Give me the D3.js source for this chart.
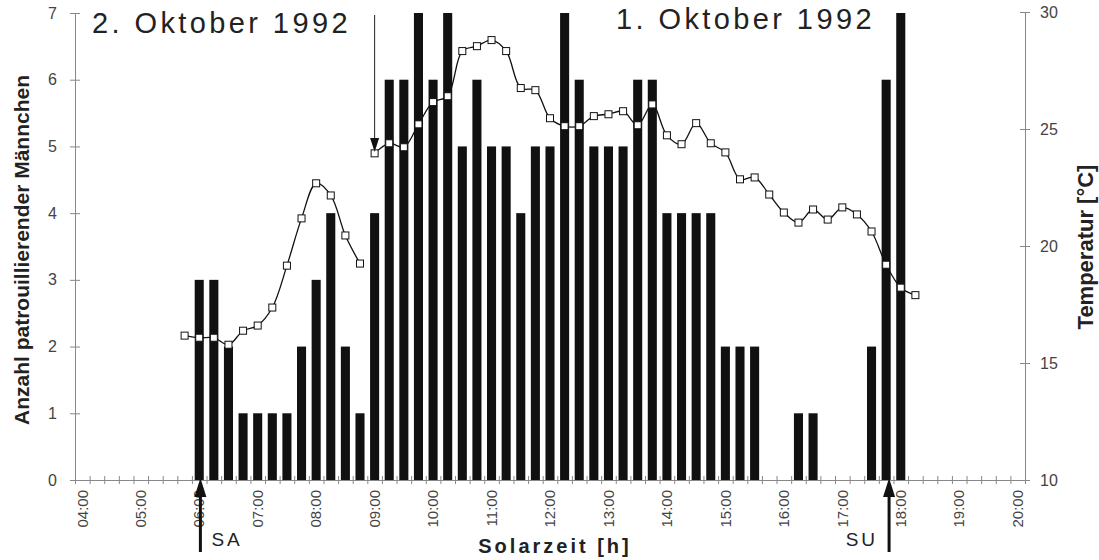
<!DOCTYPE html>
<html>
<head>
<meta charset="utf-8">
<script src="https://cdn.jsdelivr.net/npm/d3@7"></script>
<style>
  body { margin: 0; background: #fff; }
  svg { display: block; font-family: "Liberation Sans", Arial, sans-serif; }
  .axis path, .axis line { stroke: #888; }
  .axis text { fill: #444; }
</style>
</head>
<body>
<svg id="chart" width="1099" height="560"></svg>
<script>
// 15 min categories on the x axis
var categories = ["04:00","04:15","04:30","04:45","05:00","05:15","05:30","05:45",
  "06:00","06:15","06:30","06:45","07:00","07:15","07:30","07:45",
  "08:00","08:15","08:30","08:45","09:00","09:15","09:30","09:45",
  "10:00","10:15","10:30","10:45","11:00","11:15","11:30","11:45",
  "12:00","12:15","12:30","12:45","13:00","13:15","13:30","13:45",
  "14:00","14:15","14:30","14:45","15:00","15:15","15:30","15:45",
  "16:00","16:15","16:30","16:45","17:00","17:15","17:30","17:45",
  "18:00","18:15","18:30","18:45","19:00","19:15","19:30","19:45","20:00"];
var hourLabels = ["04:00","05:00","06:00","07:00","08:00","09:00","10:00","11:00","12:00",
  "13:00","14:00","15:00","16:00","17:00","18:00","19:00","20:00"];

// number of patrolling males per 15 min
var males = [0,0,0,0,0,0,0,0,
  3,3,2,1,1,1,1,2,3,4,2,1,
  4,6,6,7,6,7,5,6,5,5,4,5,5,7,6,5,5,5,6,6,4,4,4,4,
  2,2,2,0,0,1,1,0,0,0,2,6,7,
  0,0,0,0,0,0,0,0];

// temperature, 2. Oktober (05:45 - 08:45) and 1. Oktober (09:00 - 18:15)
var tempOct2Start = "05:45";
var tempOct2 = [16.17,16.08,16.08,15.78,16.38,16.6,17.37,19.16,21.18,22.68,22.16,20.45,19.25];
var tempOct1Start = "09:00";
var tempOct1 = [23.96,24.39,24.22,25.2,26.15,26.4,28.33,28.54,28.8,28.33,26.75,26.66,
  25.46,25.12,25.12,25.55,25.63,25.76,25.16,26.05,24.73,24.35,25.25,24.39,
  24.0,22.85,22.93,22.2,21.43,21.0,21.56,21.13,21.65,21.35,20.62,19.2,18.22,17.9];

var countTicks = [0,1,2,3,4,5,6,7];
var tempTicks = [10,15,20,25,30];
var sunLabels = ["SA","SU"];
var sunHours = [6.02, 17.8];

var svg = d3.select("#chart");
var plotLeft = 75, plotRight = 1025, plotTop = 13, plotBottom = 480;

var x = d3.scaleBand().domain(categories).range([plotLeft, plotRight])
  .paddingInner(0.38).paddingOuter(0.19);
var step = x.step();
// hours -> pixel, category centers
var xHour = d3.scaleLinear().domain([4, 20 + 0.25]).range([plotLeft + step / 2, plotRight + step / 2]);
var xEdge = d3.scaleLinear().domain([0, categories.length]).range([plotLeft, plotRight]);
var yCount = d3.scaleLinear().domain([0, 7]).range([plotBottom, plotTop]);
var yTemp = d3.scaleLinear().domain([10, 30]).range([plotBottom, plotTop - 1]);

// bars
svg.append("g").selectAll("rect")
  .data(males.map(function (v, i) { return { cat: categories[i], v: v }; }).filter(function (d) { return d.v > 0; }))
  .enter().append("rect")
  .attr("x", function (d) { return x(d.cat); })
  .attr("width", x.bandwidth())
  .attr("y", function (d) { return yCount(d.v); })
  .attr("height", function (d) { return yCount(0) - yCount(d.v); })
  .attr("fill", "#111");

// x axis: minor ticks on category edges
var gx = svg.append("g").attr("class", "axis").attr("transform", "translate(0," + plotBottom + ")");
gx.call(d3.axisBottom(xEdge).tickValues(d3.range(categories.length + 1))
  .tickFormat("").tickSizeOuter(0).tickSizeInner(4));
gx.selectAll(".tick line").attr("y1", -4);

var gxl = svg.append("g").attr("class", "axis").attr("transform", "translate(0," + plotBottom + ")");
gxl.call(d3.axisBottom(x).tickValues(hourLabels).tickSize(0));
gxl.select(".domain").remove();
gxl.selectAll("text")
  .attr("y", 0).attr("x", -10).attr("dy", "0.35em")
  .attr("transform", "rotate(-90)")
  .style("text-anchor", "end")
  .style("font-size", "15px");

// left axis
var gyl = svg.append("g").attr("class", "axis").attr("transform", "translate(" + plotLeft + ",0)");
gyl.call(d3.axisLeft(yCount).tickValues(countTicks).tickFormat(d3.format("d"))
  .tickSizeOuter(0).tickSizeInner(5).tickPadding(13));
gyl.selectAll(".tick line").attr("x1", 5);
gyl.selectAll("text").style("font-size", "16px");

// right axis
var gyr = svg.append("g").attr("class", "axis").attr("transform", "translate(" + plotRight + ",0)");
gyr.call(d3.axisRight(yTemp).tickValues(tempTicks).tickFormat(d3.format("d"))
  .tickSizeOuter(0).tickSizeInner(5).tickPadding(10));
gyr.selectAll(".tick line").attr("x1", -5);
gyr.selectAll("text").style("font-size", "16px");

// temperature lines
var line = d3.line()
  .x(function (d) { return d.x; })
  .y(function (d) { return yTemp(d.t); })
  .curve(d3.curveCatmullRom.alpha(0.5));

function series(start, temps) {
  var i0 = categories.indexOf(start);
  return temps.map(function (t, i) { return { x: x(categories[i0 + i]) + x.bandwidth() / 2, t: t }; });
}
[series(tempOct2Start, tempOct2), series(tempOct1Start, tempOct1)].forEach(function (s) {
  svg.append("path").datum(s)
    .attr("d", line)
    .attr("fill", "none")
    .attr("stroke", "#111")
    .attr("stroke-width", 1.3);
  svg.append("g").selectAll("rect").data(s).enter().append("rect")
    .attr("x", function (d) { return d.x - 3.5; })
    .attr("y", function (d) { return yTemp(d.t) - 3.5; })
    .attr("width", 7).attr("height", 7)
    .attr("fill", "#fff")
    .attr("stroke", "#111")
    .attr("stroke-width", 1);
});

// date labels
svg.append("text").attr("x", 92).attr("y", 33)
  .style("font-size", "29px").style("letter-spacing", "3.4px").attr("fill", "#222")
  .text("2. Oktober 1992");
svg.append("text").attr("x", 616).attr("y", 29)
  .style("font-size", "29px").style("letter-spacing", "3.4px").attr("fill", "#222")
  .text("1. Oktober 1992");

// arrow marking the change of day
var ax = x("09:00") + x.bandwidth() / 2;
svg.append("line").attr("x1", ax).attr("x2", ax).attr("y1", 15).attr("y2", 142)
  .attr("stroke", "#222").attr("stroke-width", 1);
svg.append("path").attr("d", "M" + (ax - 4.5) + ",138L" + (ax + 4.5) + ",138L" + ax + ",152Z")
  .attr("fill", "#111");

// sunrise / sunset arrows
sunLabels.forEach(function (lab, i) {
  var sx = xHour(sunHours[i]);
  svg.append("line").attr("x1", sx).attr("x2", sx).attr("y1", 494).attr("y2", 552)
    .attr("stroke", "#111").attr("stroke-width", 3);
  svg.append("path").attr("d", "M" + (sx - 6) + ",497L" + (sx + 6) + ",497L" + sx + ",478Z")
    .attr("fill", "#111");
  svg.append("text")
    .attr("x", i == 0 ? sx + 11 : sx - 11)
    .attr("y", 546)
    .style("font-size", "19px").style("letter-spacing", "3px").attr("fill", "#222")
    .style("text-anchor", i == 0 ? "start" : "end")
    .text(lab);
});

// axis titles
svg.append("text").attr("x", 555).attr("y", 553)
  .style("font-size", "20px").style("font-weight", "bold").style("letter-spacing", "3px")
  .style("text-anchor", "middle").attr("fill", "#222")
  .text("Solarzeit [h]");
svg.append("text").attr("transform", "translate(29,250) rotate(-90)")
  .style("font-size", "21px").style("font-weight", "bold")
  .style("text-anchor", "middle").attr("fill", "#222")
  .text("Anzahl patrouillierender Männchen");
svg.append("text").attr("transform", "translate(1093,247) rotate(-90)")
  .style("font-size", "22px").style("font-weight", "bold")
  .style("text-anchor", "middle").attr("fill", "#222")
  .text("Temperatur [°C]");
</script>
</body>
</html>
